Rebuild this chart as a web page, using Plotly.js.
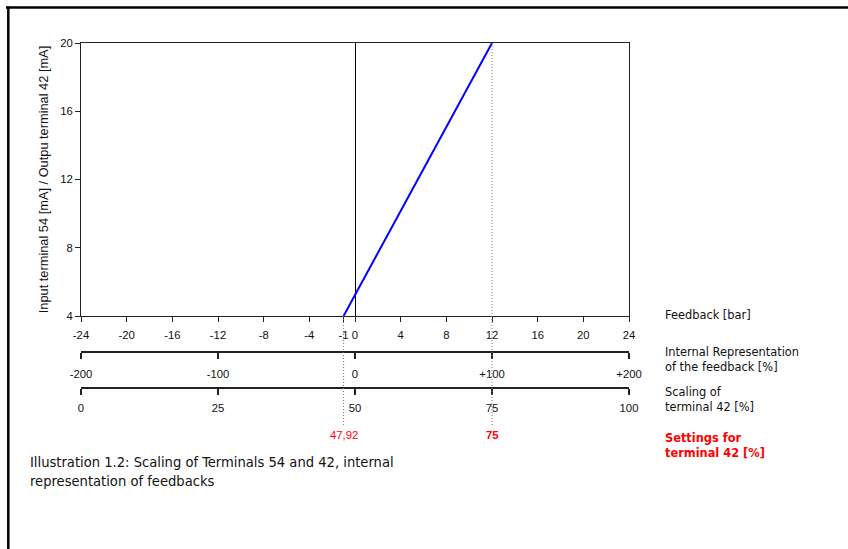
<!DOCTYPE html>
<html>
<head>
<meta charset="utf-8">
<script src="https://cdn.plot.ly/plotly-3.0.1.min.js"></script>
<style>html,body{margin:0;padding:0;background:#fff;}#chart{width:848px;height:549px;}</style>
</head>
<body>
<div id="chart"></div>
<script>
// ---- data ----
const feedbackTicks = [-24, -20, -16, -12, -8, -4, -1, 0, 4, 8, 12, 16, 20, 24];
const feedbackTickText = ["-24", "-20", "-16", "-12", "-8", "-4", "-1", "0", "4", "8", "12", "16", "20", "24"];
const currentTicks = [4, 8, 12, 16, 20];
const internalTicks = [-200, -100, 0, 100, 200];
const internalTickText = ["-200", "-100", "0", "+100", "+200"];
const scalingTicks = [0, 25, 50, 75, 100];
const scalingTickText = ["0", "25", "50", "75", "100"];
const lineFeedback = [-1, 12];      // bar
const lineCurrent = [4, 20];        // mA
const settingsFeedback = [-1, 12];  // bar positions of settings
const settingsText = ["47,92", "<b>75</b>"];

const ink = '#111';
const tickFont = {family: 'Liberation Sans, Arial, sans-serif', size: 11.3, color: ink};
const sideFont = {family: 'DejaVu Sans, Verdana, sans-serif', size: 11.4, color: ink};

// layout geometry helpers (pixels -> paper)
const L = 81, R = 629, T = 43, B = 388;
const W = R - L, H = B - T;
const px = x => (x - L) / W;
const py = y => (B - y) / H;

const traces = [
  {x: lineFeedback, y: lineCurrent, xaxis: 'x', yaxis: 'y', mode: 'lines',
   line: {color: '#0000ff', width: 2}, hoverinfo: 'skip', showlegend: false},
  {x: [internalTicks[0], internalTicks[internalTicks.length - 1]], y: [null, null], xaxis: 'x2', yaxis: 'y',
   mode: 'lines', hoverinfo: 'skip', showlegend: false},
  {x: [scalingTicks[0], scalingTicks[scalingTicks.length - 1]], y: [null, null], xaxis: 'x3', yaxis: 'y',
   mode: 'lines', hoverinfo: 'skip', showlegend: false}
];

const secAxis = (range, vals, text, pos, standoff) => ({
  range: range, tickvals: vals, ticktext: text, anchor: 'free', overlaying: 'x', position: pos,
  showline: true, linecolor: '#222', linewidth: 2, ticks: 'outside', ticklen: 6, tickwidth: 1.5,
  tickcolor: '#222', showgrid: false, zeroline: false, tickfont: tickFont, fixedrange: true,
  ticklabelstandoff: standoff
});

const shapes = [];
settingsFeedback.forEach((f, i) => {
  shapes.push({type: 'line', xref: 'x', yref: 'paper', x0: f, x1: f,
    y0: i === 0 ? py(316) : 1, y1: py(425), line: {color: '#777', width: 1, dash: '1px,2px'}});
});
// page frame
shapes.push({type: 'line', xref: 'paper', yref: 'paper', x0: px(6), x1: px(848), y0: py(7.5), y1: py(7.5),
  line: {color: '#000', width: 2.5}});
shapes.push({type: 'line', xref: 'paper', yref: 'paper', x0: px(8.3), x1: px(8.3), y0: py(6.5), y1: py(549),
  line: {color: '#000', width: 2.5}});

const annotations = [];
settingsFeedback.forEach((f, i) => {
  annotations.push({xref: 'x', yref: 'paper', x: f, y: py(435), text: settingsText[i], showarrow: false,
    font: {family: 'Liberation Sans, Arial, sans-serif', size: 11.3, color: '#ff0000'}, xanchor: 'center', yanchor: 'middle'});
});
const side = [
  ['Feedback [bar]', 315, ink],
  ['Internal Representation<br>of the feedback [%]', 359.5, ink],
  ['Scaling of<br>terminal 42 [%]', 399, ink],
  ['<b>Settings for<br>terminal 42 [%]</b>', 445.5, '#ff0000']
];
side.forEach(s => annotations.push({xref: 'paper', yref: 'paper', x: px(663), y: py(s[1]), text: s[0],
  showarrow: false, xanchor: 'left', yanchor: 'middle', align: 'left',
  font: {family: sideFont.family, size: sideFont.size, color: s[2]}}));
annotations.push({xref: 'paper', yref: 'paper', x: px(28), y: py(471),
  text: 'Illustration 1.2: Scaling of Terminals 54 and 42, internal<br>representation of feedbacks',
  showarrow: false, xanchor: 'left', yanchor: 'middle', align: 'left',
  font: {family: 'DejaVu Sans Condensed, Liberation Sans Narrow, Liberation Sans, sans-serif', size: 14.6, color: ink}});

const layout = {
  width: 848, height: 549,
  margin: {l: L, r: 848 - R, t: T, b: 549 - B, pad: 0},
  paper_bgcolor: '#fff', plot_bgcolor: '#fff',
  showlegend: false,
  xaxis: {range: [-24, 24], tickvals: feedbackTicks, ticktext: feedbackTickText, anchor: 'y',
    showline: true, mirror: true, linecolor: '#222', linewidth: 1, ticks: 'outside', ticklen: 5,
    tickcolor: '#222', showgrid: false, zeroline: true, zerolinecolor: '#000', zerolinewidth: 1,
    tickfont: tickFont, fixedrange: true, ticklabelstandoff: 3},
  xaxis2: secAxis([-200, 200], internalTicks, internalTickText, py(352), 5),
  xaxis3: secAxis([0, 100], scalingTicks, scalingTickText, py(388), 3),
  yaxis: {range: [4, 20], tickvals: currentTicks, domain: [py(316), 1], anchor: 'x',
    showline: true, mirror: true, linecolor: '#222', linewidth: 1, ticks: 'outside', ticklen: 5,
    tickcolor: '#222', showgrid: false, zeroline: false, tickfont: tickFont, fixedrange: true,
    title: {text: 'Input terminal 54 [mA] / Outpu terminal 42 [mA]', standoff: 8,
      font: {family: 'Liberation Sans, Arial, sans-serif', size: 12.8, color: ink}}},
  shapes: shapes,
  annotations: annotations
};

Plotly.newPlot('chart', traces, layout, {staticPlot: true, displayModeBar: false});
</script>
</body>
</html>
